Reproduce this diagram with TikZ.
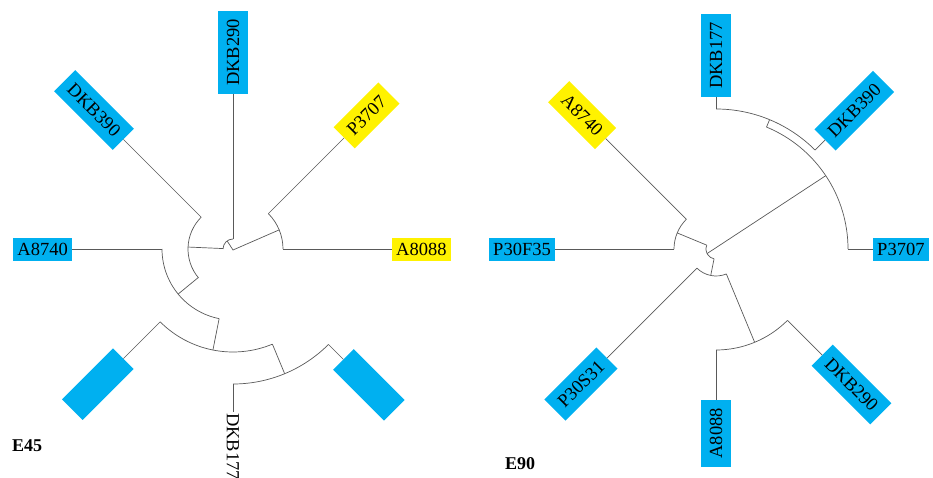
\documentclass[tikz,border=0pt]{standalone}
\usepackage{fontspec}
\setmainfont{Liberation Serif}
\definecolor{skyb}{RGB}{0,176,240}

\begin{document}
\begin{tikzpicture}[
                x=1pt, y=1pt,
                branch/.style={draw=black!65, line width=0.7pt},
                tag/.style={fill=skyb, inner xsep=4pt, inner ysep=0pt, minimum height=23pt, font=\fontsize{18.5}{20}\selectfont},
                ytag/.style={tag, fill=yellow},
                tilted/.style={inner xsep=8pt, minimum height=30pt},
                blank/.style={fill=skyb, minimum width=72pt, minimum height=29pt, inner sep=0pt},
                title/.style={font=\fontsize{18}{20}\selectfont\bfseries, anchor=west, inner sep=0pt}
            ]
                \useasboundingbox (0,0) rectangle (933,-478);

                % 左边的树 E45
                \begin{scope}[shift={(233,-249)}]
                    % 内部节点: 名字/角度/弧起/弧止/半径/父半径
                    \foreach \n/\m/\lo/\hi/\rr/\pp in {LB/177.5/135/220/45/10, LC/219.4/180/258.75/71/45,
                                                    LD/258.75/225/292.5/103/71, LE/292.5/270/315/135/103} {
                        \coordinate (\n) at (\m:\rr);
                        \coordinate (\n-p) at (\m:\pp);
                        \draw[branch] (\n-p) -- (\n);
                        \draw[branch] (\n) arc[start angle=\m, end angle=\lo, radius=\rr pt];
                        \draw[branch] (\n) arc[start angle=\m, end angle=\hi, radius=\rr pt];
                    }

                    % 根, 以及 A8088/P3707 那一支
                    \coordinate (Lroot) at (90:10);
                    \coordinate (Lo) at (0,-1);
                    \coordinate (Lk) at (126:10);
                    \coordinate (LA) at (22.5:50);
                    \draw[branch] (Lroot) arc[start angle=90, end angle=180, radius=10pt];
                    \draw[branch] (LA) -- (Lo) -- (Lk);
                    \draw[branch] (LA) arc[start angle=22.5, end angle=0, radius=50pt];
                    \draw[branch] (LA) arc[start angle=22.5, end angle=45, radius=50pt];

                    % 叶子标签
                    \node[ytag, anchor=west] (lA8088) at (0:159) {A8088};
                    \node[ytag, tilted, rotate=45, anchor=west] (lP3707) at (45:157) {P3707};
                    \node[tag, tilted, rotate=90, anchor=west] (lDKB290) at (90:155) {DKB290};
                    \node[tag, tilted, rotate=-45, anchor=east] (lDKB390) at (135:155) {DKB390};
                    \node[tag, anchor=east] (lA8740) at (180:161) {A8740};
                    \node[blank, rotate=45, anchor=east] (lbox1) at (225:155) {};
                    \node[tag, fill=none, rotate=-90, anchor=west, inner xsep=1pt] (lDKB177) at (270:163) {DKB177};
                    \node[blank, rotate=-45, anchor=west] (lbox2) at (315:156) {};

                    % 叶子连线
                    \foreach \t/\ang/\rr in {lA8088/0/50, lP3707/45/50, lDKB290/90/10, lDKB390/135/45,
                                             lA8740/180/71, lbox1/225/103, lDKB177/270/135, lbox2/315/135} {
                        \coordinate (\t-f) at (\ang:\rr);
                        \draw[branch] (\t-f) -- (\t);
                    }
                \end{scope}

                % 右边的树 E90
                \begin{scope}[shift={(716,-249)}]
                    % 内部节点: 名字/角度/弧起/弧止/半径/父半径
                    \foreach \n/\m/\lo/\hi/\rr/\pp in {RW/157.5/135/180/42/10, RU/258.75/225/292.5/27/10,
                                                    RV/292.5/270/315/101/27, RY/67.5/45/90/140/132} {
                        \coordinate (\n) at (\m:\rr);
                        \coordinate (\n-p) at (\m:\pp);
                        \draw[branch] (\n-p) -- (\n);
                        \draw[branch] (\n) arc[start angle=\m, end angle=\lo, radius=\rr pt];
                        \draw[branch] (\n) arc[start angle=\m, end angle=\hi, radius=\rr pt];
                    }

                    % 根, 以及 P3707 那一支
                    \coordinate (Rroot) at (157.5:10);
                    \coordinate (Rk) at (207:10);
                    \coordinate (RZ) at (33.75:132);
                    \draw[branch] (Rroot) arc[start angle=157.5, end angle=258.75, radius=10pt];
                    \draw[branch] (RZ) -- (Rk);
                    \draw[branch] (RZ) arc[start angle=33.75, end angle=0, radius=132pt];
                    \draw[branch] (RZ) arc[start angle=33.75, end angle=67.5, radius=132pt];

                    % 叶子标签
                    \node[tag, anchor=west] (rP3707) at (0:157) {P3707};
                    \node[tag, tilted, rotate=45, anchor=west] (rDKB390) at (45:154) {DKB390};
                    \node[tag, tilted, rotate=90, anchor=west] (rDKB177) at (90:152) {DKB177};
                    \node[ytag, tilted, rotate=-45, anchor=east] (rA8740) at (135:156) {A8740};
                    \node[tag, anchor=east] (rP30F35) at (180:161) {P30F35};
                    \node[tag, tilted, rotate=45, anchor=east] (rP30S31) at (225:154) {P30S31};
                    \node[tag, tilted, rotate=90, anchor=east] (rA8088) at (270:151) {A8088};
                    \node[tag, tilted, rotate=-45, anchor=west] (rDKB290) at (315:150) {DKB290};

                    % 叶子连线
                    \foreach \t/\ang/\rr in {rP3707/0/132, rDKB390/45/140, rDKB177/90/140, rA8740/135/42,
                                             rP30F35/180/42, rP30S31/225/27, rA8088/270/101, rDKB290/315/101} {
                        \coordinate (\t-f) at (\ang:\rr);
                        \draw[branch] (\t-f) -- (\t);
                    }
                \end{scope}

                % 标题
                \node[title] (e45) at (12,-446) {E45};
                \node[title] (e90) at (505,-464) {E90};
            \end{tikzpicture}
\end{document}
